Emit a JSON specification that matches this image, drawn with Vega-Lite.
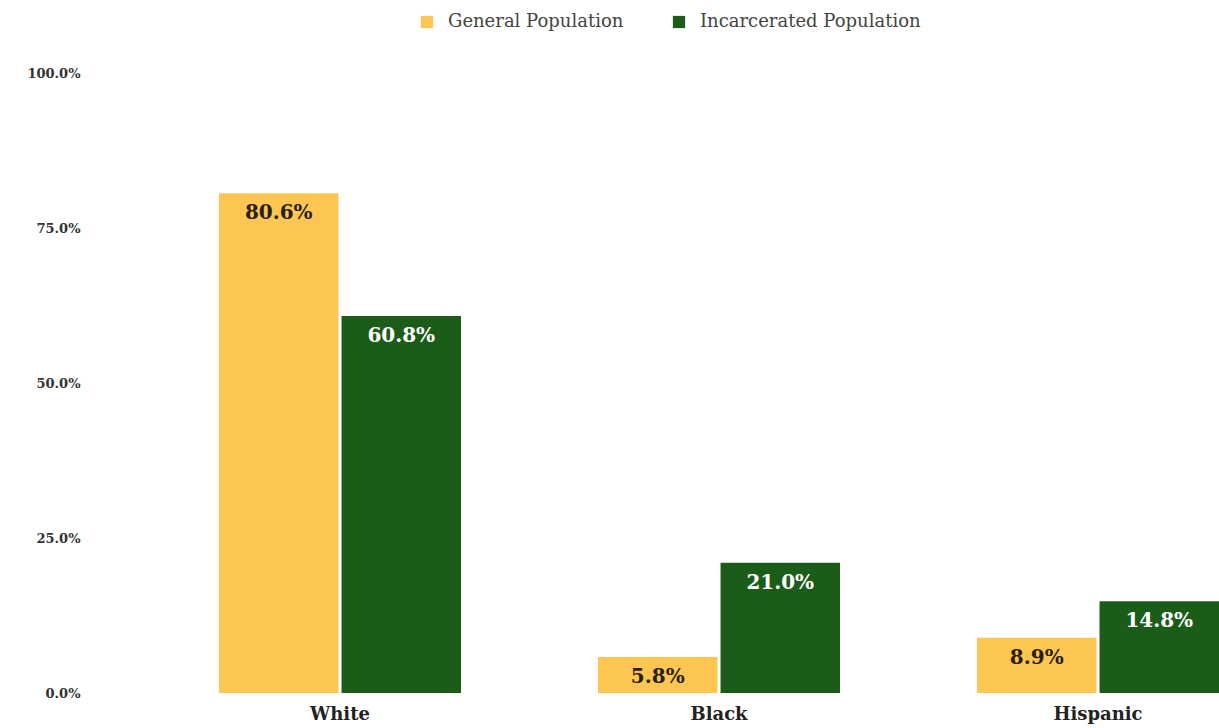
{
  "$schema": "https://vega.github.io/schema/vega-lite/v6.json",
  "autosize": "none",
  "width": 1129,
  "height": 620,
  "padding": {"left": 90, "top": 73, "right": 0, "bottom": 35},
  "background": "white",
  "config": {"view": {"stroke": null}, "font": "DejaVu Serif"},
  "data": {"values": [
    {"race": "White", "pop": "General Population", "value": 0.806},
    {"race": "White", "pop": "Incarcerated Population", "value": 0.608},
    {"race": "Black", "pop": "General Population", "value": 0.058},
    {"race": "Black", "pop": "Incarcerated Population", "value": 0.21},
    {"race": "Hispanic", "pop": "General Population", "value": 0.089},
    {"race": "Hispanic", "pop": "Incarcerated Population", "value": 0.148}
  ]},
  "encoding": {
    "x": {"field": "race", "type": "nominal", "sort": ["White", "Black", "Hispanic"],
      "scale": {"paddingInner": 0.3615, "paddingOuter": 0.1702, "align": 1},
      "axis": {"title": null, "labelAngle": 0, "ticks": false, "domain": false, "labelPadding": 12,
        "labelFont": "DejaVu Serif", "labelFontWeight": "bold", "labelFontSize": 18, "labelColor": "#222"}},
    "xOffset": {"field": "pop", "type": "nominal", "scale": {"paddingInner": 0.025}},
    "y": {"field": "value", "type": "quantitative", "scale": {"domain": [0, 1]},
      "axis": {"title": null, "values": [0, 0.25, 0.5, 0.75, 1], "format": ".1%", "grid": false, "ticks": false,
        "domain": false, "labelPadding": 10, "labelFont": "DejaVu Serif", "labelFontWeight": "bold",
        "labelFontSize": 13, "labelColor": "#333"}}
  },
  "layer": [
    {"mark": {"type": "bar"},
     "encoding": {"color": {"field": "pop", "type": "nominal",
        "scale": {"domain": ["General Population", "Incarcerated Population"], "range": ["#FDC653", "#1C5C19"]},
        "legend": {"title": null, "orient": "none", "legendX": 328, "legendY": -60, "direction": "horizontal",
          "symbolType": "square", "symbolSize": 150, "symbolStrokeWidth": 0, "labelFont": "DejaVu Serif", "labelFontSize": 18,
          "labelLimit": 400, "labelColor": "#444", "columnPadding": 46, "labelOffset": 12}}}},
    {"mark": {"type": "text", "baseline": "top", "dy": 10, "fontWeight": "bold", "fontSize": 20, "font": "DejaVu Serif"},
     "encoding": {"text": {"field": "value", "type": "quantitative", "format": ".1%"},
       "color": {"condition": {"test": "datum.pop === 'General Population'", "value": "#2a1f10"}, "value": "#ffffff"}}}
  ]
}
